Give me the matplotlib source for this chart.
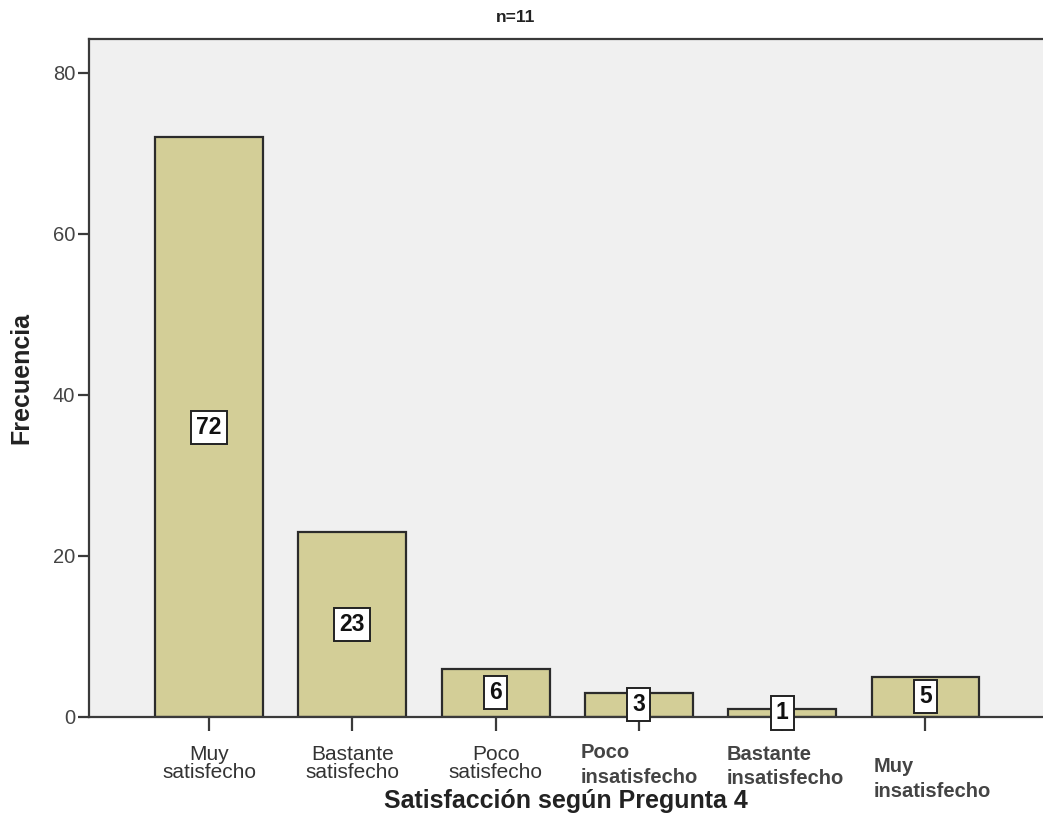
import matplotlib
matplotlib.use("Agg")
import matplotlib.pyplot as plt
import numpy as np

categorias = ["Muy\nsatisfecho", "Bastante\nsatisfecho", "Poco\nsatisfecho",
              "Poco\ninsatisfecho", "Bastante\ninsatisfecho", "Muy\ninsatisfecho"]
frecuencias = [72, 23, 6, 3, 1, 5]
y_ticks = [0, 20, 40, 60, 80]

plt.rcParams["font.family"] = ["Liberation Sans", "DejaVu Sans"]

fig = plt.figure(figsize=(10.43, 8.27), dpi=100)
ax = fig.add_axes([89 / 1043, 1 - 717 / 827, 1 - 89 / 1043, (717 - 39) / 827])
ax.set_facecolor("#f0f0f0")

x = np.arange(len(categorias))
ax.bar(x, frecuencias, width=0.753, color="#d3ce97", edgecolor="#2b2b2b", linewidth=1.6, zorder=2)

ax.set_xlim(-0.837, 5.82)
ax.set_ylim(0, 84.2)

ax.spines["right"].set_visible(False)
for s in ["left", "bottom", "top"]:
    ax.spines[s].set_color("#3a3a3a")
    ax.spines[s].set_linewidth(1.6)

ax.set_yticks(y_ticks)
ax.tick_params(axis="y", length=8, width=1.6, color="#3a3a3a", labelsize=14.5, labelcolor="#444444", pad=2)
ax.set_xticks(x)
ax.set_xticklabels([])
ax.tick_params(axis="x", length=10, width=1.6, color="#3a3a3a")

# etiquetas de categoría: las tres primeras centradas, las demás a la izquierda
for i, lab in enumerate(categorias[:3]):
    ax.annotate(lab, (x[i], 0), xytext=(0, -20), textcoords="offset points",
                ha="center", va="top", fontsize=15, color="#333333", linespacing=0.95)
desplaz = [(-42, -19), (-40, -20), (-37, -29)]
for i, (dx, dy) in zip(range(3, 6), desplaz):
    ax.annotate(categorias[i], (x[i], 0), xytext=(dx, dy), textcoords="offset points",
                ha="left", va="top", fontsize=14.5, fontweight="bold", color="#444444",
                linespacing=1.35)

# valores dentro de cada barra
for xi, v in zip(x, frecuencias):
    ax.text(xi, v / 2, str(v), ha="center", va="center", fontsize=16.5, fontweight="bold",
            color="#111111", zorder=3,
            bbox=dict(boxstyle="square,pad=0.22", facecolor="white", edgecolor="#222222", linewidth=1.4))

ax.set_ylabel("Frecuencia", fontsize=18, fontweight="bold", color="#222222", labelpad=14)
fig.text(566 / 1043, 1 - 801 / 827, "Satisfacción según Pregunta 4", ha="center", va="center",
         fontsize=18, fontweight="bold", color="#222222")
fig.text(516 / 1043, 1 - 18 / 827, "n=11", ha="center", va="center",
         fontsize=12.5, fontweight="bold", color="#222222")

fig.savefig("out.png", dpi=100, facecolor="white")
